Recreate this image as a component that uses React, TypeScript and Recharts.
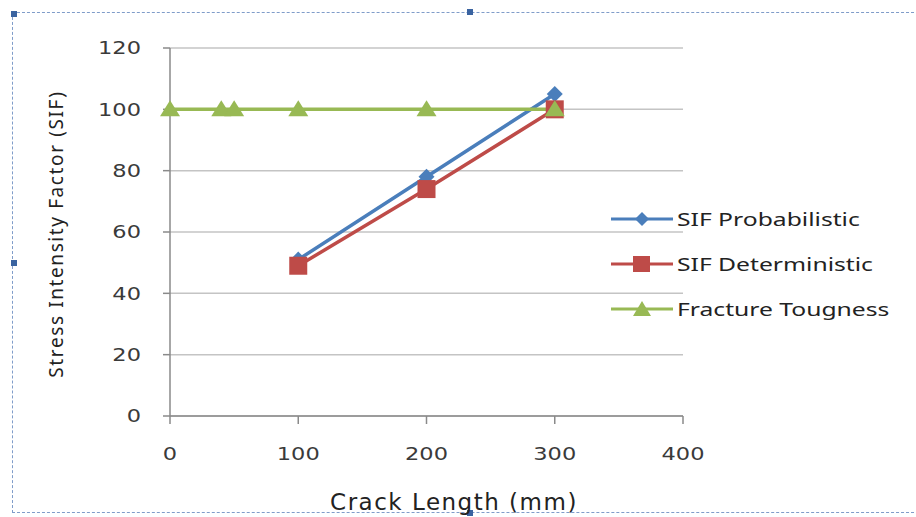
import React from "react";
import { LineChart, Line, XAxis, YAxis, CartesianGrid } from "recharts";

const probCrack = [100, 200, 300];
const probSIF = [51, 78, 105];
const detCrack = [100, 200, 300];
const detSIF = [49, 74, 100];
const toughCrack = [0, 40, 50, 100, 200, 300];
const toughSIF = [100, 100, 100, 100, 100, 100];

const xTicks = [0, 100, 200, 300, 400];
const yTicks = [0, 20, 40, 60, 80, 100, 120];

const COLORS = {
  prob: "#4a7ebb",
  det: "#be4b48",
  tough: "#98b954",
};

const toPoints = (xs: number[], ys: number[]) =>
  xs.map((x, i) => ({ x, y: ys[i] }));

const probData = toPoints(probCrack, probSIF);
const detData = toPoints(detCrack, detSIF);
const toughData = toPoints(toughCrack, toughSIF);

const Diamond = (props: any) => {
  const { cx, cy } = props;
  if (cx == null || cy == null) return null;
  const r = 8;
  return (
    <polygon
      points={`${cx},${cy - r} ${cx + r},${cy} ${cx},${cy + r} ${cx - r},${cy}`}
      fill={COLORS.prob}
    />
  );
};

const Square = (props: any) => {
  const { cx, cy } = props;
  if (cx == null || cy == null) return null;
  const s = 9;
  return <rect x={cx - s} y={cy - s} width={s * 2} height={s * 2} fill={COLORS.det} />;
};

const Triangle = (props: any) => {
  const { cx, cy } = props;
  if (cx == null || cy == null) return null;
  return (
    <polygon
      points={`${cx},${cy - 9} ${cx + 10},${cy + 7} ${cx - 10},${cy + 7}`}
      fill={COLORS.tough}
    />
  );
};

// excel-ish wide digits: stretch horizontally instead of letter spacing
const WideTick = (props: any) => {
  const { x, y, payload, textAnchor } = props;
  return (
    <g transform={`translate(${x},${y}) scale(1.25,1)`}>
      <text
        x={0}
        y={0}
        dy={textAnchor === "middle" ? "0.71em" : "0.355em"}
        textAnchor={textAnchor}
        fontFamily="DejaVu Sans"
        fontSize={18}
        fill="#3a3a3a"
      >
        {payload.value}
      </text>
    </g>
  );
};

const legendItems = [
  { name: "SIF Probabilistic", color: COLORS.prob, marker: "diamond" },
  { name: "SIF Deterministic", color: COLORS.det, marker: "square" },
  { name: "Fracture Tougness", color: COLORS.tough, marker: "triangle" },
];

const LegendMarker = ({ color, marker }: { color: string; marker: string }) => (
  <svg width={62} height={20} style={{ display: "block" }}>
    <line x1={0} y1={10} x2={62} y2={10} stroke={color} strokeWidth={3} />
    {marker === "diamond" && <polygon points="31,3 38,10 31,17 24,10" fill={color} />}
    {marker === "square" && <rect x={22} y={2} width={17} height={16} fill={color} />}
    {marker === "triangle" && <polygon points="31,2 40,17 22,17" fill={color} />}
  </svg>
);

const handle = (left: number, top: number): React.CSSProperties => ({
  position: "absolute",
  left,
  top,
  width: 6,
  height: 6,
  background: "#3a63a0",
});

export default function App() {
  return (
    <div
      style={{
        position: "fixed",
        left: 0,
        top: 0,
        width: 916,
        height: 517,
        background: "#fff",
        overflow: "hidden",
      }}
    >
      <div
        style={{
          position: "absolute",
          left: 12,
          top: 12,
          width: 920,
          height: 499,
          border: "1.5px dashed #7f9cc9",
        }}
      />
      <div style={handle(11, 11)} />
      <div style={handle(467, 9)} />
      <div style={handle(11, 260)} />
      <div style={handle(467, 510)} />
      <LineChart
        width={916}
        height={517}
        margin={{ top: 48, right: 233, bottom: 41, left: 110 }}
        style={{ position: "absolute", left: 0, top: 0 }}
      >
        <CartesianGrid vertical={false} stroke="#c4c4c4" strokeWidth={1.5} />
        <XAxis
          type="number"
          dataKey="x"
          domain={[0, 400]}
          ticks={xTicks}
          allowDuplicatedCategory={false}
          height={60}
          stroke="#8a8a8a"
          strokeWidth={1.5}
          tickSize={8}
          tickMargin={23}
          tick={<WideTick />}
          label={{
            content: () => (
              <text
                x={454}
                y={510}
                textAnchor="middle"
                fontFamily="DejaVu Sans"
                fontSize={23}
                fill="#222"
                letterSpacing={1.5}
              >
                Crack Length (mm)
              </text>
            ),
          }}
        />
        <YAxis
          type="number"
          dataKey="y"
          domain={[0, 120]}
          ticks={yTicks}
          width={60}
          stroke="#8a8a8a"
          strokeWidth={1.5}
          tickSize={7}
          tickMargin={22}
          tick={<WideTick />}
          label={{
            content: () => (
              <text
                x={56}
                y={234}
                transform="rotate(-90 56 234)"
                textAnchor="middle"
                dominantBaseline="central"
                fontFamily="Noto Sans"
                fontSize={19}
                fill="#222"
                letterSpacing={1.6}
              >
                Stress Intensity Factor (SIF)
              </text>
            ),
          }}
        />
        <Line
          data={probData}
          dataKey="y"
          stroke={COLORS.prob}
          strokeWidth={3.5}
          dot={<Diamond />}
          isAnimationActive={false}
        />
        <Line
          data={detData}
          dataKey="y"
          stroke={COLORS.det}
          strokeWidth={3.5}
          dot={<Square />}
          isAnimationActive={false}
        />
        <Line
          data={toughData}
          dataKey="y"
          stroke={COLORS.tough}
          strokeWidth={3.5}
          dot={<Triangle />}
          isAnimationActive={false}
        />
      </LineChart>
      <div style={{ position: "absolute", left: 611, top: 196 }}>
        {legendItems.map((item) => (
          <div key={item.name} style={{ display: "flex", alignItems: "center", height: 45 }}>
            <LegendMarker color={item.color} marker={item.marker} />
            <span
              style={{
                fontFamily: "Noto Sans",
                fontSize: 18,
                color: "#222",
                marginLeft: 4,
                whiteSpace: "nowrap",
                display: "inline-block",
                transform: "scaleX(1.37)",
                transformOrigin: "left center",
              }}
            >
              {item.name}
            </span>
          </div>
        ))}
      </div>
    </div>
  );
}
